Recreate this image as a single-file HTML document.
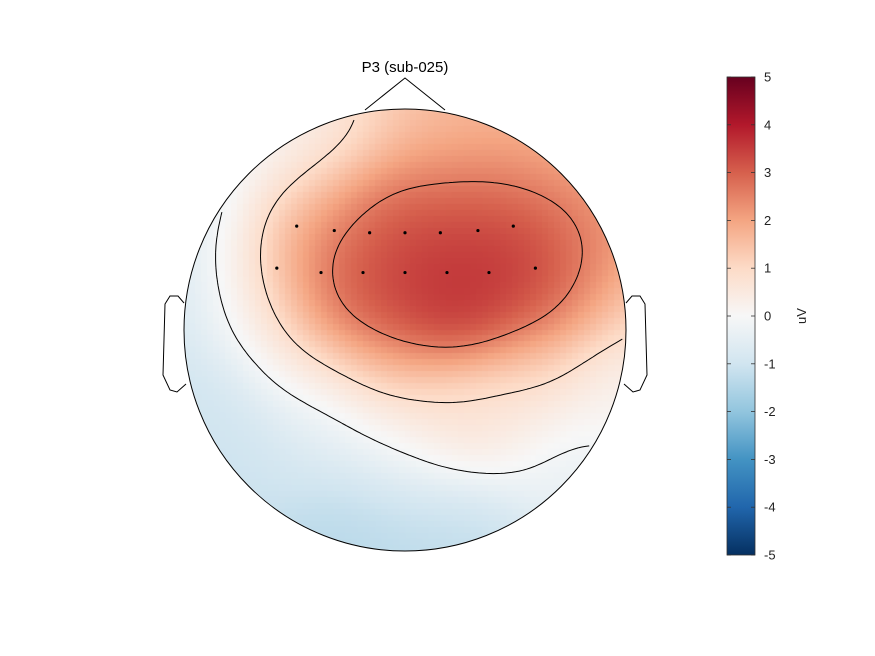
<!DOCTYPE html>
<html><head><meta charset="utf-8">
<style>
body{margin:0;background:#fff;}
#wrap{position:relative;width:875px;height:656px;overflow:hidden;font-family:"Liberation Sans",sans-serif;}
canvas,svg{position:absolute;left:0;top:0;}
</style></head>
<body>
<div id="wrap">
<canvas id="heat" width="875" height="656"></canvas>
<svg id="svg" width="875" height="656">
  <text x="405" y="72" text-anchor="middle" font-size="15" fill="#000">P3 (sub-025)</text>
  <g id="contours"></g>
  <circle cx="405" cy="330" r="221" fill="none" stroke="#000" stroke-width="1"/>
  <polyline points="365,110 405,78 445,110" fill="none" stroke="#000"/>
  <path d="M184,303 L178,296 L170,296 L165,304 L163,375 L170,390 L177,392 L186,384" fill="none" stroke="#000"/>
  <path d="M626,303 L632,296 L640,296 L645,304 L647,375 L640,390 L633,392 L624,384" fill="none" stroke="#000"/>
  <g id="elecs"></g>
  <defs><linearGradient id="cb" x1="0" y1="1" x2="0" y2="0"></linearGradient></defs>
  <rect x="727" y="77" width="28" height="478" fill="url(#cb)" stroke="#333" stroke-width="0.8"/>
  <g id="cbticks"></g>
  <text transform="translate(806,316) rotate(-90)" text-anchor="middle" font-size="13" fill="#222">uV</text>
</svg>
</div>
<script>
// electrode positions (normalized head coords: u right, v up) and values (uV)
const elecU = [-0.49,-0.32,-0.16,0.0,0.16,0.33,0.49,-0.58,-0.38,-0.19,0.0,0.19,0.38,0.59];
const elecV = [0.47,0.45,0.44,0.44,0.44,0.45,0.47,0.28,0.26,0.26,0.26,0.26,0.26,0.28];
const elecVal = [1.5,2.6,3.0,3.2,3.4,3.6,3.4,1.8,3.3,3.4,3.6,3.8,3.7,3.6];
// estimated anchor points elsewhere on scalp
const ancU = [0,-0.3,0.3,-0.6,0.6,-0.82,0.85,-0.97,0.97,-0.9,0.93,-0.7,0.7,-0.3,0.3,0,0,-0.4,0.45,0.26,0,-0.35,0.55,-0.62,0.75,0.15,0.3,-0.15,-0.4,0.1,-0.75,0.35];
const ancV = [0.97,0.92,0.92,0.78,0.75,0.5,0.45,0.15,0.1,-0.3,-0.25,-0.65,-0.65,-0.92,-0.92,-0.97,-0.55,-0.45,-0.4,-0.38,-0.2,-0.15,-0.1,0.05,0.25,0.15,0.18,0.1,0.7,0.7,0.25,0.62];
const ancVal = [1.4,0.5,1.6,-0.4,1.6,-0.9,1.8,-1.0,0.7,-1.0,0.1,-1.1,-0.4,-1.4,-1.2,-1.3,-0.4,-0.6,0.3,1.0,1.3,0.5,1.4,0.0,3.2,3.8,3.7,3.1,0.6,1.9,-0.3,2.2];
const cbTicks = [5,4,3,2,1,0,-1,-2,-3,-4,-5];
const levels = [-0.1,0.9,2.6];

const CX=405, CY=330, R=221, VMIN=-5, VMAX=5, SIG=0.2;
const NS='http://www.w3.org/2000/svg';
const stops=[[5,'#67001f'],[4,'#b2182b'],[3,'#d6604d'],[2,'#f4a582'],[1,'#fddbc7'],[0,'#f7f7f7'],[-1,'#d1e5f0'],[-2,'#92c5de'],[-3,'#4393c3'],[-4,'#2166ac'],[-5,'#053061']];
function hex(h){return [1,3,5].map(i=>parseInt(h.substr(i,2),16));}
function color(v){v=Math.max(VMIN,Math.min(VMAX,v));
 for(let i=0;i<stops.length-1;i++){const a=stops[i],b=stops[i+1];
  if(v<=a[0]&&v>=b[0]){const t=(a[0]-v)/(a[0]-b[0]);const ca=hex(a[1]),cb=hex(b[1]);
   return ca.map((c,k)=>Math.round(c+(cb[k]-c)*t));}}
 return [0,0,0];}
const pu=[...elecU,...ancU], pv=[...elecV,...ancV], pval=[...elecVal,...ancVal];
function field(u,v){let s=0,w=0;for(let i=0;i<pu.length;i++){const d=(u-pu[i])**2+(v-pv[i])**2;const wi=Math.exp(-d/(2*SIG*SIG));s+=wi*pval[i];w+=wi;}return s/w;}
const xs=u=>CX+u*R, ys=v=>CY-v*R;

const N=74, cell=2*R/N;
const ctx=document.getElementById('heat').getContext('2d');
ctx.save();ctx.beginPath();ctx.arc(CX,CY,R,0,2*Math.PI);ctx.clip();
for(let j=0;j<N;j++)for(let i=0;i<N;i++){const u=-1+(2*i+1)/N, v=1-(2*j+1)/N;const c=color(field(u,v));
 ctx.fillStyle=`rgb(${c})`;ctx.fillRect(Math.floor(CX-R+i*cell),Math.floor(CY-R+j*cell),Math.ceil(cell)+1,Math.ceil(cell)+1);}
ctx.restore();

const M=120, fg=[];
for(let j=0;j<=M;j++){fg.push([]);for(let i=0;i<=M;i++)fg[j].push(field(-1+2*i/M,1-2*j/M));}
const cg=document.getElementById('contours');
levels.forEach(L=>{let d='';
 for(let j=0;j<M;j++)for(let i=0;i<M;i++){
  const c=[fg[j][i],fg[j][i+1],fg[j+1][i+1],fg[j+1][i]];
  const p=[[i,j],[i+1,j],[i+1,j+1],[i,j+1]];const pts=[];
  for(let e=0;e<4;e++){const a=c[e],b=c[(e+1)%4];if((a-L)*(b-L)<0){const t=(L-a)/(b-a);
   const gx=p[e][0]+(p[(e+1)%4][0]-p[e][0])*t, gy=p[e][1]+(p[(e+1)%4][1]-p[e][1])*t;
   const u=-1+2*gx/M, v=1-2*gy/M; if(u*u+v*v<0.98) pts.push([xs(u),ys(v)]);}}
  for(let k=0;k+1<pts.length;k+=2)d+=`M${pts[k][0].toFixed(1)},${pts[k][1].toFixed(1)}L${pts[k+1][0].toFixed(1)},${pts[k+1][1].toFixed(1)}`;}
 const path=document.createElementNS(NS,'path');
 path.setAttribute('d',d);path.setAttribute('fill','none');path.setAttribute('stroke','#000');path.setAttribute('stroke-width','1');
 
 
 cg.appendChild(path);});

const eg=document.getElementById('elecs');
elecU.forEach((u,k)=>{const c=document.createElementNS(NS,'circle');
 c.setAttribute('cx',xs(u));c.setAttribute('cy',ys(elecV[k]));c.setAttribute('r','1.6');c.setAttribute('fill','#000');
 
 
 eg.appendChild(c);});

const grad=document.getElementById('cb');
stops.slice().reverse().forEach(s=>{const st=document.createElementNS(NS,'stop');st.setAttribute('offset',((s[0]-VMIN)/(VMAX-VMIN)));st.setAttribute('stop-color',s[1]);grad.appendChild(st);});
const tg=document.getElementById('cbticks');
const cy=v=>555-(v-VMIN)/(VMAX-VMIN)*478;
cbTicks.forEach(t=>{
 [[727,731],[751,755]].forEach(([a,b])=>{const l=document.createElementNS(NS,'line');l.setAttribute('x1',a);l.setAttribute('x2',b);l.setAttribute('y1',cy(t));l.setAttribute('y2',cy(t));l.setAttribute('stroke','#333');l.setAttribute('stroke-width','0.8');
 
 
 tg.appendChild(l);});
 const tx=document.createElementNS(NS,'text');tx.setAttribute('x',764);tx.setAttribute('y',cy(t)+4.5);tx.setAttribute('font-size','13');tx.setAttribute('fill','#222');tx.textContent=t;
 
 
 tg.appendChild(tx);});
</script>
</body></html>
